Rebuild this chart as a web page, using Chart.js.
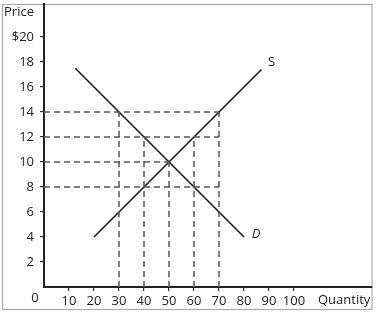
<!DOCTYPE html>
<html>
<head>
<meta charset="utf-8">
<script src="https://cdn.jsdelivr.net/npm/chart.js@4"></script>
<style>
  body { margin: 0; background: #fff; }
  #wrap { width: 377px; height: 315px; }
</style>
</head>
<body>
<div id="wrap"><canvas id="chart" width="377" height="315"></canvas></div>
<script>
// supply and demand curves (quantity, price)
const demandQty = [12.5, 80];
const demandPrice = [17.5, 4];
const supplyQty = [20, 87];
const supplyPrice = [4, 17.4];

// dashed guide lines
const guidePrices = [14, 12, 10, 8];
const guidePriceEnds = [70, 70, 50, 70];
const guideQtys = [30, 40, 50, 60, 70];
const guideQtyTops = [14, 12, 10, 12, 14];

const yTicks = [2, 4, 6, 8, 10, 12, 14, 16, 18, 20];
const xTicks = [10, 20, 30, 40, 50, 60, 70, 80, 90, 100];

const FONT = "'Open Sans', 'Liberation Sans', sans-serif";
const INK = '#222';

function pts(xs, ys) {
    return xs.map((x, i) => ({ x: x, y: ys[i] }));
}

const datasets = [];

guidePrices.forEach((p, i) => {
    datasets.push({
        data: [{ x: 0, y: p }, { x: guidePriceEnds[i], y: p }],
        borderColor: '#555',
        borderWidth: 1.5,
        borderDash: [6, 4]
    });
});
guideQtys.forEach((q, i) => {
    datasets.push({
        data: [{ x: q, y: 0 }, { x: q, y: guideQtyTops[i] }],
        borderColor: '#555',
        borderWidth: 1.5,
        borderDash: [6, 4]
    });
});

datasets.push({ data: pts(demandQty, demandPrice), borderColor: INK, borderWidth: 1.7 });
datasets.push({ data: pts(supplyQty, supplyPrice), borderColor: INK, borderWidth: 1.7 });

// no extra label padding, the frame is fixed
function fitAxis(s, size) {
    if (s.isHorizontal()) s.height = size; else s.width = size;
    s.paddingTop = 0;
    s.paddingBottom = 0;
    s.paddingLeft = 0;
    s.paddingRight = 0;
}

// frame, axis names and curve labels
const extras = {
    id: 'extras',
    beforeDraw(chart) {
        const ctx = chart.ctx;
        ctx.save();
        ctx.fillStyle = '#fff';
        ctx.fillRect(0, 0, chart.width, chart.height);
        ctx.strokeStyle = '#aaa';
        ctx.lineWidth = 1.2;
        ctx.strokeRect(2.5, 4.5, 369.5, 305);
        ctx.restore();
    },
    afterDraw(chart) {
        const ctx = chart.ctx;
        const xs = chart.scales.x, ys = chart.scales.y;
        ctx.save();
        ctx.fillStyle = INK;
        ctx.font = '13px ' + FONT;
        ctx.textBaseline = 'middle';
        ctx.textAlign = 'left';
        ctx.fillText('Price', 4, 12);
        ctx.fillText('Quantity', 318, 300);
        ctx.textAlign = 'center';
        ctx.fillText('0', 35, 298);
        ctx.fillText('S', xs.getPixelForValue(91), ys.getPixelForValue(18));
        ctx.font = 'italic 13px ' + FONT;
        ctx.fillText('D', xs.getPixelForValue(84.8), ys.getPixelForValue(4.2));
        ctx.restore();
    }
};

new Chart(document.getElementById('chart'), {
    type: 'scatter',
    data: { datasets: datasets },
    options: {
        responsive: false,
        animation: false,
        showLine: true,
        elements: { point: { radius: 0 } },
        layout: { padding: { top: 4, right: 5, left: 0, bottom: 0 } },
        plugins: { legend: { display: false }, tooltip: { enabled: false } },
        scales: {
            x: {
                type: 'linear',
                min: 0,
                max: 131.2,
                afterFit: (s) => fitAxis(s, 28),
                afterBuildTicks: (s) => { s.ticks = xTicks.map(v => ({ value: v })); },
                ticks: { color: INK, font: { family: FONT, size: 13 }, padding: 2, maxRotation: 0, autoSkip: false },
                grid: { drawOnChartArea: false, drawTicks: true, tickLength: 4, color: '#333', lineWidth: 1.2 },
                border: { display: true, color: '#222', width: 2 }
            },
            y: {
                type: 'linear',
                min: 0,
                max: 22.64,
                afterFit: (s) => fitAxis(s, 44),
                afterBuildTicks: (s) => { s.ticks = yTicks.map(v => ({ value: v })); },
                ticks: {
                    color: INK,
                    font: { family: FONT, size: 13 },
                    padding: 6,
                    autoSkip: false,
                    callback: (v) => v === 20 ? '$20' : String(v)
                },
                grid: { drawOnChartArea: false, drawTicks: true, tickLength: 4, color: '#333', lineWidth: 1.2 },
                border: { display: true, color: '#222', width: 2 }
            }
        }
    },
    plugins: [extras]
});
</script>
</body>
</html>
